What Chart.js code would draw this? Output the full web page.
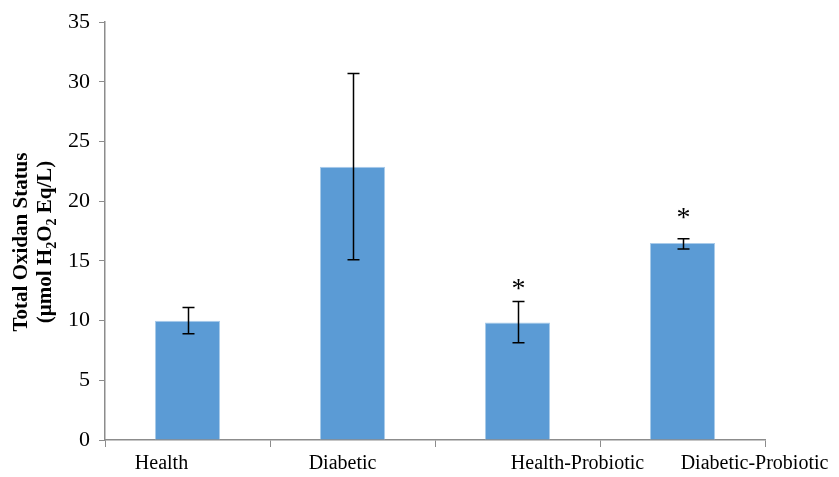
<!DOCTYPE html>
<html>
<head>
<meta charset="utf-8">
<script src="https://cdn.jsdelivr.net/npm/chart.js@4/dist/chart.umd.min.js"></script>
<style>
  html, body { margin: 0; padding: 0; background: #fff; }
  #wrap { width: 839px; height: 477px; }
</style>
</head>
<body>
<div id="wrap"><canvas id="chart"></canvas></div>
<script>
const categories = ['Health', 'Diabetic', 'Health-Probiotic', 'Diabetic-Probiotic'];
const means = [10.0, 22.9, 9.85, 16.5];
const errLow = [8.9, 15.1, 8.15, 16.0];
const errHigh = [11.1, 30.7, 11.6, 16.85];
const marks = ['', '', '*', '*'];
const markAt = [null, null, 12.9, 18.9];
const yTicks = [0, 5, 10, 15, 20, 25, 30, 35];
// label nudges to mimic original placement
const labelShift = [-26, -10, 60, 72];

const serif = '"Liberation Serif", "Times New Roman", serif';

const errorBars = {
  id: 'errorBars',
  afterDatasetsDraw(c) {
    const ctx = c.ctx;
    const y = c.scales.y;
    const meta = c.getDatasetMeta(0);
    ctx.save();
    ctx.strokeStyle = '#000';
    ctx.lineWidth = 1.5;
    meta.data.forEach((bar, i) => {
      const x = Math.round(bar.x) + 0.5;
      const yl = y.getPixelForValue(errLow[i]);
      const yh = y.getPixelForValue(errHigh[i]);
      ctx.beginPath();
      ctx.moveTo(x, yl); ctx.lineTo(x, yh);
      ctx.moveTo(x - 6, yl); ctx.lineTo(x + 6, yl);
      ctx.moveTo(x - 6, yh); ctx.lineTo(x + 6, yh);
      ctx.stroke();
      if (marks[i]) {
        ctx.fillStyle = '#000';
        ctx.font = '28px ' + serif;
        ctx.textAlign = 'center';
        ctx.textBaseline = 'middle';
        ctx.fillText(marks[i], x, y.getPixelForValue(markAt[i]) + 4);
      }
    });
    // x labels
    ctx.fillStyle = '#000';
    ctx.font = '20px ' + serif;
    ctx.textAlign = 'center';
    ctx.textBaseline = 'middle';
    meta.data.forEach((bar, i) => {
      ctx.fillText(categories[i], bar.x + labelShift[i], 464);
    });
    // y axis title with subscripts
    ctx.rotate(-Math.PI / 2);
    ctx.font = 'bold 21px ' + serif;
    ctx.textAlign = 'center';
    ctx.textBaseline = 'middle';
    const cy = -242;
    ctx.fillText('Total Oxidan Status', cy, 22);
    const parts = [
      ['(µmol H', false], ['2', true], ['O', false], ['2', true], [' Eq/L)', false]
    ];
    const fBig = 'bold 21px ' + serif, fSmall = 'bold 14px ' + serif;
    let total = 0;
    parts.forEach(p => { ctx.font = p[1] ? fSmall : fBig; total += ctx.measureText(p[0]).width; });
    let px = cy - total / 2;
    ctx.textAlign = 'left';
    parts.forEach(p => {
      ctx.font = p[1] ? fSmall : fBig;
      ctx.fillText(p[0], px, p[1] ? 52 : 46);
      px += ctx.measureText(p[0]).width;
    });
    ctx.restore();
  }
};

new Chart(document.getElementById('chart'), {
  type: 'bar',
  data: {
    labels: categories,
    datasets: [{
      data: means,
      backgroundColor: '#5B9BD5',
      borderColor: '#A9CBEA',
      borderWidth: 1,
      barPercentage: 0.79,
      categoryPercentage: 0.5
    }]
  },
  options: {
    responsive: true,
    maintainAspectRatio: false,
    animation: false,
    layout: { padding: { top: 17, right: 74, left: 0, bottom: 0 } },
    plugins: { legend: { display: false }, tooltip: { enabled: false } },
    scales: {
      x: {
        afterFit(s) { s.height = 37; },
        grid: {
          offset: true,
          drawOnChartArea: false,
          color: '#8C8C8C',
          tickLength: 7
        },
        border: { color: '#8C8C8C', width: 1.5 },
        ticks: { display: false }
      },
      y: {
        min: 0,
        max: 35,
        afterFit(s) { s.width = 105; },
        afterBuildTicks(s) { s.ticks = yTicks.map(v => ({ value: v })); },
        grid: {
          drawOnChartArea: false,
          color: '#8C8C8C',
          tickLength: 6
        },
        border: { color: '#8C8C8C', width: 1.5 },
        ticks: {
          color: '#000',
          padding: 9,
          font: { family: serif, size: 22 }
        }
      }
    }
  },
  plugins: [errorBars]
});
</script>
</body>
</html>
